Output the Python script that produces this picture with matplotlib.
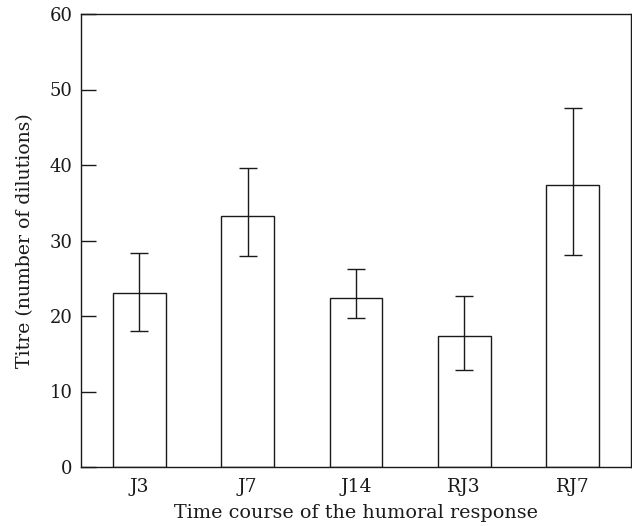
import matplotlib
matplotlib.use("Agg")
import matplotlib.pyplot as plt
import numpy as np

categories = ["J3", "J7", "J14", "RJ3", "RJ7"]
means = [23.0, 33.3, 22.4, 17.3, 37.4]
upper = [28.3, 39.6, 26.2, 22.7, 47.6]
lower = [18.0, 27.9, 19.7, 12.8, 28.1]
y_ticks = [0, 10, 20, 30, 40, 50, 60]

plt.rcParams['font.family'] = ['DejaVu Serif']

fig = plt.figure(figsize=(6.32, 5.26), dpi=100)
ax = fig.add_axes([81/632, 1-467/526, 550/632, 453/526])

x = np.arange(len(categories))
m = np.array(means)
yerr = np.vstack([m - np.array(lower), np.array(upper) - m])
ax.bar(x, m, width=0.485, color='white', edgecolor='#1a1a1a', linewidth=1.0, zorder=2)
ax.errorbar(x, m, yerr=yerr, fmt='none', ecolor='#1a1a1a', elinewidth=1.0,
            capsize=6.8, capthick=1.0, zorder=3)

ax.set_xlim(-0.54, 4.54)
ax.set_ylim(0, 60)
ax.set_yticks(y_ticks)
ax.set_xticks(x)
ax.set_xticklabels(categories)
ax.tick_params(axis='y', direction='in', length=10.5, width=1.0, labelsize=13, pad=6, colors='#1a1a1a')
ax.tick_params(axis='x', length=0, labelsize=13.5, pad=8, colors='#1a1a1a')
for s in ax.spines.values():
    s.set_linewidth(1.0)
    s.set_color('#1a1a1a')

ax.set_xlabel("Time course of the humoral response", fontsize=13.8, labelpad=6, color='#1a1a1a')
ax.set_ylabel("Titre (number of dilutions)", fontsize=13.6, labelpad=11, color='#1a1a1a')

fig.savefig("out.png", dpi=100)
